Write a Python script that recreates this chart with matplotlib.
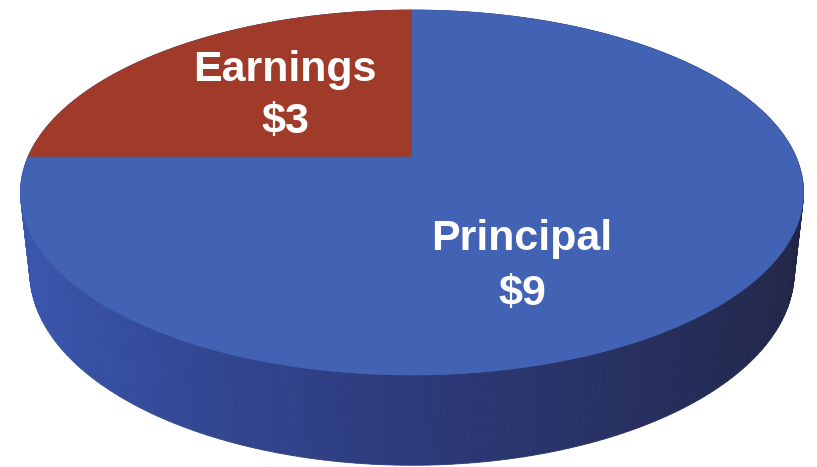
import numpy as np
import matplotlib
matplotlib.use("Agg")
import matplotlib.pyplot as plt
from matplotlib.patches import Polygon
from matplotlib.collections import PolyCollection

# data
labels = ["Earnings", "Principal"]
values = [3, 9]
value_text = ["$3", "$9"]
top_colors = ["#A03B29", "#4262B4"]

# camera for the 3d pie (unit radius disc, z up, y away from viewer)
elev = np.radians(27.2)
dist = 4.57
focal = 1755.0
thick = 0.234
cx, cy = 412, 157  # image position of the disc centre


def project(x, y, z):
    """Perspective projection to pixel coords."""
    depth = dist + y * np.cos(elev) - z * np.sin(elev)
    xc = x
    yc = y * np.sin(elev) + z * np.cos(elev)
    return cx + focal * xc / depth, cy - focal * yc / depth


def side_color(t):
    # close to the top colour on the left, dark navy on the right
    left = np.array([58, 88, 178]) / 255
    mid = np.array([44, 58, 122]) / 255
    right = np.array([33, 37, 68]) / 255
    s = (1 + np.cos(t)) / 2  # 0 at left, 1 at right
    if s < 0.5:
        return left + (mid - left) * s * 2
    return mid + (right - mid) * (s - 0.5) * 2


fig = plt.figure(figsize=(8.17, 4.67), dpi=100)
ax = fig.add_axes([0, 0, 1, 1])
ax.set_xlim(0, 817)
ax.set_ylim(467, 0)
ax.axis("off")

# side wall, back to front
n = 360
ts = np.linspace(0, 2 * np.pi, n + 1)
quads, cols, depths = [], [], []
for t0, t1 in zip(ts[:-1], ts[1:]):
    pts = []
    for t, z in [(t0, 0), (t1, 0), (t1, -thick), (t0, -thick)]:
        pts.append(project(np.cos(t), np.sin(t), z))
    quads.append(pts)
    tm = (t0 + t1) / 2
    cols.append(side_color(tm))
    depths.append(np.sin(tm))
order = np.argsort(depths)[::-1]
side = PolyCollection([quads[i] for i in order],
                      facecolors=[cols[i] for i in order],
                      edgecolors=[cols[i] for i in order], linewidths=0.6)
ax.add_collection(side)

# top face wedges, starting at 12 o'clock going counter-clockwise
total = sum(values)
start = 90.0
for val, col in zip(values, top_colors):
    span = 360.0 * val / total
    a = np.radians(np.linspace(start, start + span, 200))
    xs, ys = project(np.cos(a), np.sin(a), 0 * a)
    c = project(0, 0, 0)
    pts = [c] + list(zip(xs, ys))
    ax.add_patch(Polygon(pts, closed=True, facecolor=col, edgecolor=col, linewidth=0.5))
    start += span

# labels
font = dict(family=["Liberation Sans", "DejaVu Sans"], fontweight="bold",
            fontsize=31, color="white", ha="center", va="center")
label_pos = [(285, 70, 122), (522, 239, 294)]
for lab, vt, (px, py1, py2) in zip(labels, value_text, label_pos):
    ax.text(px, py1, lab, **font)
    ax.text(px, py2, vt, **font)

fig.savefig("out.png", dpi=100, facecolor="white")
